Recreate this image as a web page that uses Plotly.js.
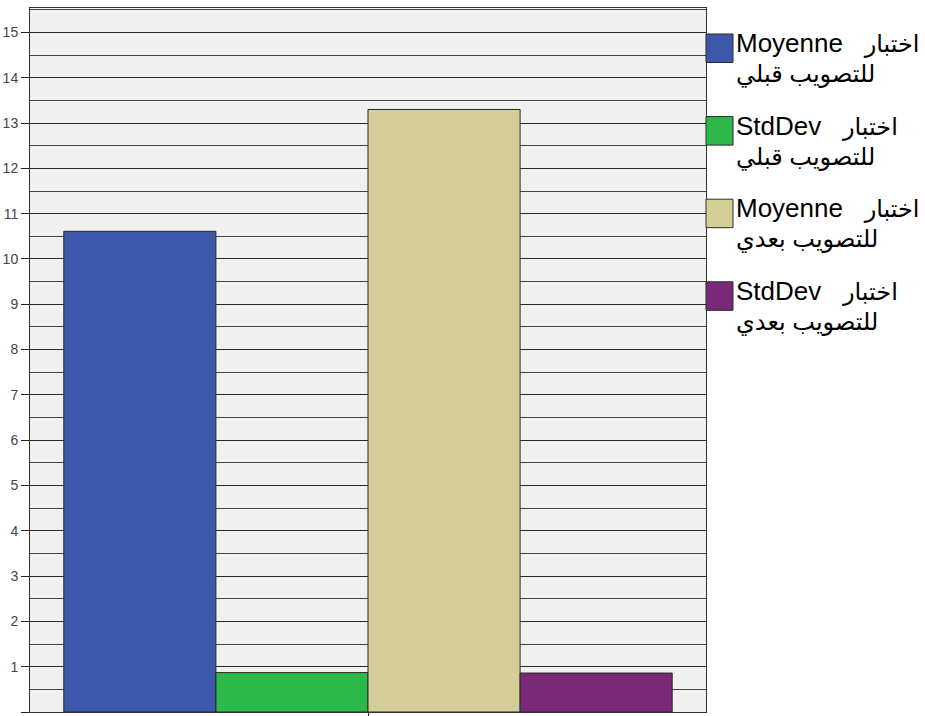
<!DOCTYPE html>
<html>
<head>
<meta charset="utf-8">
<script src="https://cdn.plot.ly/plotly-3.0.1.min.js"></script>
<style>
html,body{margin:0;padding:0;background:#fff;}
#chart{width:925px;height:716px;}
</style>
</head>
<body>
<div id="chart"></div>
<script>
// ---- data ----
const category = ['الاختبار'];
const seriesStats = ['Moyenne', 'StdDev', 'Moyenne', 'StdDev'];
const seriesTestWord = ['اختبار', 'اختبار', 'اختبار', 'اختبار'];
const seriesVarRest = ['للتصويب قبلي', 'للتصويب قبلي', 'للتصويب بعدي', 'للتصويب بعدي'];
const seriesValues = [10.61, 0.87, 13.30, 0.86];
const seriesColors = ['#3d57ab', '#2db84a', '#d3ce98', '#7a2878'];
const yTickVals = [0,1,2,3,4,5,6,7,8,9,10,11,12,13,14,15];

// ---- layout helpers ----
const W = 925, H = 716;
const M = {l: 30, r: 219, t: 8, b: 4};
const L = M.l, R = W - M.r, T = M.t, B = H - M.b;
const px2x = p => (p - L) / (R - L);
const py2y = p => (B - p) / (B - T);

const traces = seriesValues.map((v, i) => ({
  type: 'bar',
  x: category,
  y: [v],
  name: seriesStats[i] + ' ' + seriesTestWord[i] + ' ' + seriesVarRest[i],
  marker: {color: seriesColors[i], line: {color: '#2a2a2a', width: 1}},
  showlegend: false,
  hoverinfo: 'y'
}));

const legendFont = {family: 'Arial, "Liberation Sans", "DejaVu Sans", sans-serif', size: 26, color: '#000'};
const shapes = [];
const annotations = [];
seriesValues.forEach((v, i) => {
  const top = 34 + 82.6 * i;
  shapes.push({
    type: 'rect', xref: 'paper', yref: 'paper',
    x0: px2x(706), x1: px2x(733),
    y0: py2y(top + 28.5), y1: py2y(top),
    fillcolor: seriesColors[i],
    line: {color: '#2a2a2a', width: 1}
  });
  annotations.push({
    xref: 'paper', yref: 'paper',
    x: px2x(734), y: py2y(top + 9),
    xanchor: 'left', yanchor: 'middle',
    text: seriesStats[i] + '\u00a0\u00a0\u00a0<span style="font-size:24px">' + seriesTestWord[i] + '</span>',
    showarrow: false, font: legendFont
  });
  annotations.push({
    xref: 'paper', yref: 'paper',
    x: px2x(734), y: py2y(top + 40),
    xanchor: 'left', yanchor: 'middle',
    text: seriesVarRest[i],
    showarrow: false, font: Object.assign({}, legendFont, {size: 24})
  });
});

const layout = {
  width: W, height: H,
  margin: M,
  paper_bgcolor: '#ffffff',
  plot_bgcolor: '#f0f0f0',
  barmode: 'group',
  bargap: 0.1,
  bargroupgap: 0,
  showlegend: false,
  font: {family: 'Arial, "Liberation Sans", sans-serif', color: '#333'},
  xaxis: {
    type: 'category',
    range: [-0.5, 0.5],
    showticklabels: false,
    ticks: 'outside', ticklen: 5, tickcolor: '#222', tickwidth: 1,
    showgrid: false, zeroline: false,
    showline: true, mirror: true, linecolor: '#333', linewidth: 1,
    fixedrange: true
  },
  yaxis: {
    range: [0, 15.54],
    tickvals: yTickVals,
    ticktext: yTickVals.map(String),
    ticks: 'outside', ticklen: 8, tickcolor: '#222', tickwidth: 1,
    tickfont: {size: 14, color: '#444'},
    showgrid: true, gridcolor: '#2a2a2a', gridwidth: 1,
    minor: {dtick: 0.5, tick0: 0, showgrid: true, gridcolor: '#444', gridwidth: 1, ticks: ''},
    zeroline: false,
    showline: true, mirror: true, linecolor: '#333', linewidth: 1,
    fixedrange: true
  },
  shapes: shapes,
  annotations: annotations
};

Plotly.newPlot('chart', traces, layout, {displayModeBar: false, staticPlot: true});
</script>
</body>
</html>
